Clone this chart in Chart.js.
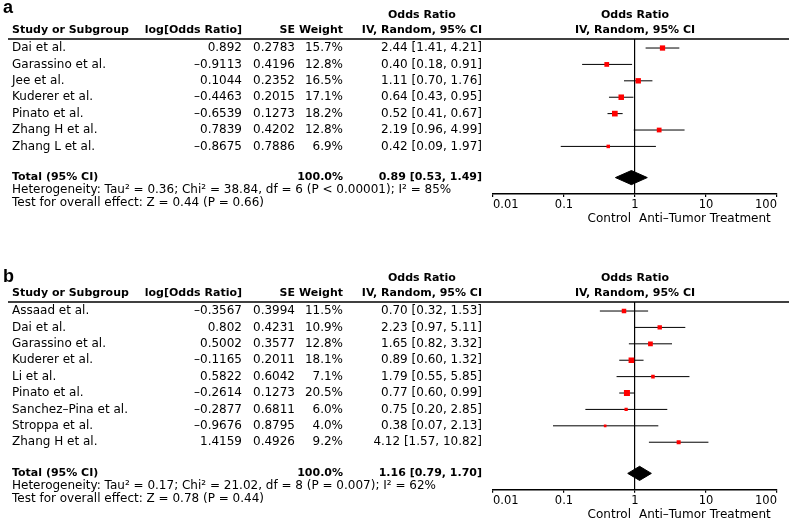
<!DOCTYPE html>
<html>
<head>
<meta charset="utf-8">
<script src="https://cdn.jsdelivr.net/npm/chart.js@4.4.1/dist/chart.umd.min.js"></script>
<style>
    html, body { margin: 0; padding: 0; background: #fff; }
    body { width: 789px; height: 520px; position: relative; overflow: hidden; }
    canvas { position: absolute; left: 0; }
</style>
</head>
<body>
<canvas id="panelA" width="789" height="263" style="top:0"></canvas>
<canvas id="panelB" width="789" height="257" style="top:263px"></canvas>
<script>
'use strict';

// Panel a
const studiesA = ['Dai et al.', 'Garassino et al.', 'Jee et al.', 'Kuderer et al.', 'Pinato et al.',
    'Zhang H et al.', 'Zhang L et al.'];
const logOrA = [0.892, -0.9113, 0.1044, -0.4463, -0.6539, 0.7839, -0.8675];
const seA = [0.2783, 0.4196, 0.2352, 0.2015, 0.1273, 0.4202, 0.7886];
const weightA = [15.7, 12.8, 16.5, 17.1, 18.2, 12.8, 6.9];
const orA = [2.44, 0.40, 1.11, 0.64, 0.52, 2.19, 0.42];
const lowA = [1.41, 0.18, 0.70, 0.43, 0.41, 0.96, 0.09];
const highA = [4.21, 0.91, 1.76, 0.95, 0.67, 4.99, 1.97];
const totalA = [0.89, 0.53, 1.49];   // OR, low, high
const totalWeightA = 100.0;
const hetA = 'Heterogeneity: Tau² = 0.36; Chi² = 38.84, df = 6 (P < 0.00001); I² = 85%';
const testA = 'Test for overall effect: Z = 0.44 (P = 0.66)';

// Panel b
const studiesB = ['Assaad et al.', 'Dai et al.', 'Garassino et al.', 'Kuderer et al.', 'Li et al.',
    'Pinato et al.', 'Sanchez–Pina et al.', 'Stroppa et al.', 'Zhang H et al.'];
const logOrB = [-0.3567, 0.802, 0.5002, -0.1165, 0.5822, -0.2614, -0.2877, -0.9676, 1.4159];
const seB = [0.3994, 0.4231, 0.3577, 0.2011, 0.6042, 0.1273, 0.6811, 0.8795, 0.4926];
const weightB = [11.5, 10.9, 12.8, 18.1, 7.1, 20.5, 6.0, 4.0, 9.2];
const orB = [0.70, 2.23, 1.65, 0.89, 1.79, 0.77, 0.75, 0.38, 4.12];
const lowB = [0.32, 0.97, 0.82, 0.60, 0.55, 0.60, 0.20, 0.07, 1.57];
const highB = [1.53, 5.11, 3.32, 1.32, 5.85, 0.99, 2.85, 2.13, 10.82];
const totalB = [1.16, 0.79, 1.70];
const totalWeightB = 100.0;
const hetB = 'Heterogeneity: Tau² = 0.17; Chi² = 21.02, df = 8 (P = 0.007); I² = 62%';
const testB = 'Test for overall effect: Z = 0.78 (P = 0.44)';

const xTicks = [0.01, 0.1, 1, 10, 100];
const sideLabels = ['Control', 'Anti–Tumor Treatment'];

const ROW_H = 16.4;
const FONT = '"DejaVu Sans", Verdana, sans-serif';
const COLS = {study: 12, logOr: 242, se: 295, weight: 343, ci: 482};

Chart.defaults.font.family = FONT;
Chart.defaults.font.size = 11;
Chart.defaults.color = '#000';

const fmtNum = v => String(v).replace('-', '–');
const fmtCi = (o, l, h) => `${o.toFixed(2)} [${l.toFixed(2)}, ${h.toFixed(2)}]`;

const forestText = {
    id: 'forestText',
    afterDraw(chart, args, opts) {
        const p = opts.panel;
        const {ctx, chartArea} = chart;
        const y = chart.scales.y;
        const x = chart.scales.x;
        const n = p.studies.length;
        const top = chartArea.top;
        ctx.save();
        ctx.strokeStyle = '#000';
        ctx.lineWidth = 1.5;
        ctx.beginPath();
        ctx.moveTo(8, top);
        ctx.lineTo(chart.width, top);
        ctx.stroke();

        ctx.fillStyle = '#000';
        // bold is drawn a size smaller: the regular face of the original is wider
        const text = (s, tx, ty, align, bold) => {
            ctx.font = bold ? 'bold 11px ' + FONT : '12px ' + FONT;
            ctx.textAlign = align || 'left';
            ctx.textBaseline = 'middle';
            ctx.fillText(s, tx, ty);
        };

        ctx.font = 'bold 18px "Liberation Sans", Arial, sans-serif';
        ctx.textAlign = 'left';
        ctx.textBaseline = 'alphabetic';
        ctx.fillText(p.letter, 3, p.letterY);

        // headers
        const h2 = top - 9, h1 = top - 24;
        text('Study or Subgroup', COLS.study, h2, 'left', true);
        text('log[Odds Ratio]', COLS.logOr, h2, 'right', true);
        text('SE', COLS.se, h2, 'right', true);
        text('Weight', COLS.weight, h2, 'right', true);
        text('IV, Random, 95% CI', COLS.ci, h2, 'right', true);
        ctx.font = 'bold 11px ' + FONT;
        const wIv = ctx.measureText('IV, Random, 95% CI').width;
        text('Odds Ratio', COLS.ci - wIv / 2, h1, 'center', true);
        const mid = (chartArea.left + chartArea.right) / 2;
        text('Odds Ratio', mid, h1, 'center', true);
        text('IV, Random, 95% CI', mid, h2, 'center', true);

        p.studies.forEach((s, i) => {
            const ry = y.getPixelForValue(i + 1);
            text(s, COLS.study, ry);
            text(fmtNum(p.logOr[i]), COLS.logOr, ry, 'right');
            text(fmtNum(p.se[i]), COLS.se, ry, 'right');
            text(p.weight[i].toFixed(1) + '%', COLS.weight, ry, 'right');
            text(fmtCi(p.or[i], p.low[i], p.high[i]), COLS.ci, ry, 'right');
        });

        const ty = y.getPixelForValue(n + 1.9);
        text('Total (95% CI)', COLS.study, ty, 'left', true);
        text(p.totalWeight.toFixed(1) + '%', COLS.weight, ty, 'right', true);
        text(fmtCi(p.total[0], p.total[1], p.total[2]), COLS.ci, ty, 'right', true);
        text(p.het, COLS.study, ty + 12.5);
        text(p.test, COLS.study, ty + 25);

        const x1 = x.getPixelForValue(1);
        const ly = chartArea.bottom + 25;
        text(sideLabels[0], x1 - 4, ly, 'right');
        text(sideLabels[1], x1 + 4, ly, 'left');
        ctx.restore();
    }
};

function forestChart(canvasId, p) {
    const canvas = document.getElementById(canvasId);
    const n = p.studies.length;
    const yMin = 0.45, yMax = n + 2.9;
    const totalRow = n + 1.9;
    const plotTop = 39, axisH = 20;
    const plotH = (yMax - yMin) * ROW_H;
    const dh = 0.43;
    const [tOr, tLo, tHi] = p.total;

    const datasets = [{
        data: p.or.map((v, i) => ({x: v, y: i + 1})),
        pointStyle: 'rect',
        pointRadius: p.weight.map(w => 1.33 * Math.sqrt(w) / Math.SQRT2),
        pointBackgroundColor: '#ff0000',
        pointBorderWidth: 0,
    }, {
        data: [{x: tLo, y: totalRow}, {x: tOr, y: totalRow - dh}, {x: tHi, y: totalRow},
            {x: tOr, y: totalRow + dh}, {x: tLo, y: totalRow}],
        showLine: true,
        fill: 'shape',
        backgroundColor: '#000',
        borderColor: '#000',
        borderWidth: 1,
        pointRadius: 0,
    }];
    p.low.forEach((lo, i) => {
        datasets.push({
            data: [{x: lo, y: i + 1}, {x: p.high[i], y: i + 1}],
            showLine: true,
            borderColor: '#000',
            borderWidth: 1,
            pointRadius: 0,
        });
    });

    return new Chart(canvas, {
        type: 'scatter',
        data: {datasets},
        options: {
            responsive: false,
            animation: false,
            events: [],
            layout: {
                padding: {left: 493, right: 12, top: plotTop,
                    bottom: canvas.height - plotTop - plotH - axisH}
            },
            plugins: {
                legend: {display: false},
                tooltip: {enabled: false},
                forestText: {panel: p}
            },
            scales: {
                x: {
                    type: 'logarithmic',
                    min: 0.01,
                    max: 100,
                    afterBuildTicks: scale => {
                        scale.ticks = xTicks.map(value => ({value}));
                    },
                    afterFit: scale => {
                        scale.height = axisH;
                    },
                    ticks: {
                        align: 'inner',
                        padding: 1,
                        maxRotation: 0,
                        autoSkip: false,
                        color: '#000',
                        font: {size: 11.5},
                        callback: v => String(v)
                    },
                    grid: {
                        drawOnChartArea: true,
                        color: c => (c.tick && c.tick.value === 1 ? '#000' : 'rgba(0,0,0,0)'),
                        tickColor: '#000',
                        tickLength: 3,
                        lineWidth: 1.2
                    },
                    border: {display: true, color: '#000', width: 1.5}
                },
                y: {
                    type: 'linear',
                    reverse: true,
                    min: yMin,
                    max: yMax,
                    display: false
                }
            }
        },
        plugins: [forestText]
    });
}

forestChart('panelA', {
    letter: 'a', letterY: 13,
    studies: studiesA, logOr: logOrA, se: seA, weight: weightA,
    or: orA, low: lowA, high: highA, total: totalA, totalWeight: totalWeightA,
    het: hetA, test: testA
});
forestChart('panelB', {
    letter: 'b', letterY: 19,
    studies: studiesB, logOr: logOrB, se: seB, weight: weightB,
    or: orB, low: lowB, high: highB, total: totalB, totalWeight: totalWeightB,
    het: hetB, test: testB
});
</script>
</body>
</html>
